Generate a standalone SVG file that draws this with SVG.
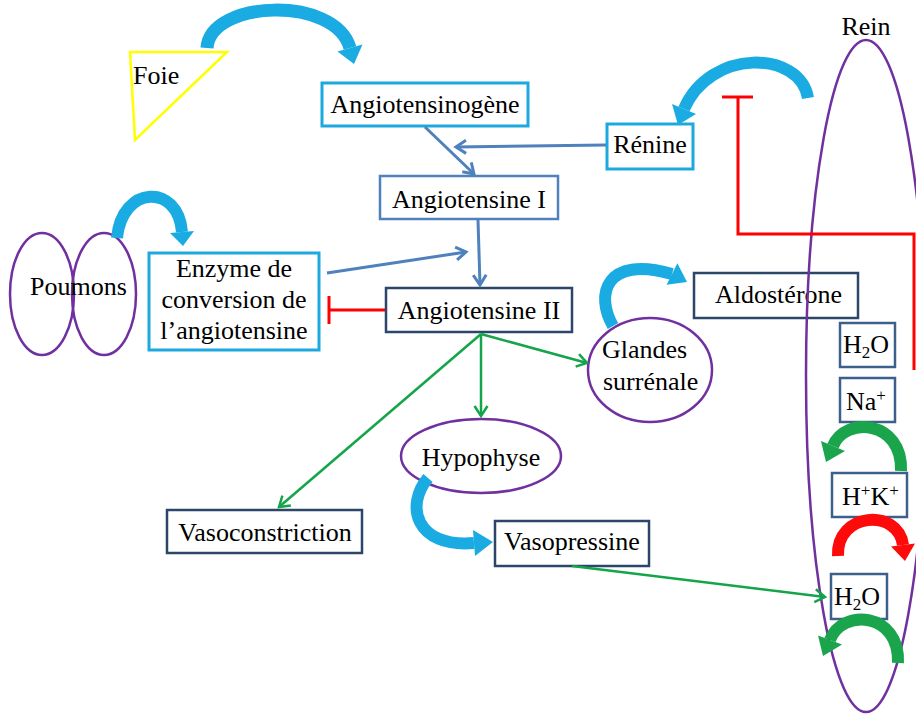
<svg xmlns="http://www.w3.org/2000/svg" width="916" height="714" viewBox="0 0 916 714">
<defs>
<style>
text{font-family:"Liberation Serif","Times New Roman",serif;font-size:26px;fill:#000}
.cy{fill:#fff;stroke:#1DA9E0;stroke-width:3}
.sb{fill:#fff;stroke:#4F81BD;stroke-width:2.5}
.nv{fill:#fff;stroke:#2B4669;stroke-width:2.5}
.sm{fill:#fff;stroke:#3D5F8C;stroke-width:2.5}
.pu{fill:none;stroke:#7030A0;stroke-width:2.5}
.bl{fill:none;stroke:#4F81BD;stroke-width:3}
.gr{fill:none;stroke:#14A44A;stroke-width:2.5}
.rd{fill:none;stroke:#FF0000;stroke-width:3}
.tb{fill:none;stroke:#1AABE3;stroke-width:13}
.tg{fill:none;stroke:#1AA44C;stroke-width:12}
.tr{fill:none;stroke:#FF0A0A;stroke-width:12}
.hb{fill:#1AABE3}
.hg{fill:#1AA44C}
.hr{fill:#FF0A0A}
</style>
<marker id="ab" markerWidth="16" markerHeight="16" refX="12" refY="8" orient="auto" markerUnits="userSpaceOnUse"><path d="M2,1.5 L12,8 L2,14.5" fill="none" stroke="#4F81BD" stroke-width="3"/></marker>
<marker id="ag" markerWidth="16" markerHeight="16" refX="12" refY="8" orient="auto" markerUnits="userSpaceOnUse"><path d="M2,1.5 L12,8 L2,14.5" fill="none" stroke="#14A44A" stroke-width="2.5"/></marker>
</defs>
<rect width="916" height="714" fill="#fff"/>

<g id="foie"><polygon points="130,52 227,52 135,140" fill="none" stroke="#FFFF00" stroke-width="2.5"/><text x="133" y="84">Foie</text></g>
<g id="angiotensinogene"><rect class="cy" x="322" y="83" width="206" height="43"/><text x="425" y="113" text-anchor="middle">Angiotensinogène</text></g>
<g id="renine"><rect class="cy" x="607" y="124" width="86" height="45"/><text x="650" y="153" text-anchor="middle">Rénine</text></g>
<g id="angiotensine1"><rect class="sb" x="380" y="176" width="178" height="43"/><text x="469" y="208" text-anchor="middle">Angiotensine I</text></g>
<g id="angiotensine2"><rect class="nv" x="386" y="288" width="186" height="44"/><text x="479" y="319" text-anchor="middle">Angiotensine II</text></g>
<g id="poumons"><ellipse class="pu" cx="42" cy="294" rx="32" ry="61"/><ellipse class="pu" cx="104" cy="294" rx="32" ry="61"/><text x="30" y="295">Poumons</text></g>
<g id="enzyme"><rect class="cy" x="149" y="253" width="170" height="97"/><text x="234" y="277" text-anchor="middle">Enzyme de</text><text x="234" y="308" text-anchor="middle">conversion de</text><text x="234" y="339" text-anchor="middle">l’angiotensine</text></g>
<g id="glandes"><ellipse class="pu" cx="650" cy="370" rx="62" ry="52"/><text x="602" y="358">Glandes</text><text x="603" y="390">surrénale</text></g>
<g id="aldosterone"><rect class="nv" x="694" y="273" width="164" height="45"/><text x="715" y="303">Aldostérone</text></g>
<g id="hypophyse"><ellipse class="pu" cx="481" cy="456" rx="80" ry="37"/><text x="481" y="466" text-anchor="middle">Hypophyse</text></g>
<g id="vasopressine"><rect class="nv" x="495" y="521" width="154" height="45"/><text x="572" y="550" text-anchor="middle">Vasopressine</text></g>
<g id="vasoconstriction"><rect class="nv" x="167" y="510" width="195" height="43"/><text x="265" y="541" text-anchor="middle">Vasoconstriction</text></g>
<g id="h2o-1"><rect class="sm" x="840" y="323" width="55" height="44"/><text x="843" y="353">H<tspan font-size="17" dy="5">2</tspan><tspan dy="-5">O</tspan></text></g>
<g id="na"><rect class="sm" x="840" y="378" width="55" height="44"/><text x="846" y="410">Na<tspan font-size="17" dy="-9">+</tspan></text></g>
<g id="hk"><rect class="sm" x="832" y="473" width="75" height="44"/><text x="842" y="505">H<tspan font-size="17" dy="-9">+</tspan><tspan dy="9">K</tspan><tspan font-size="17" dy="-9">+</tspan></text></g>
<g id="h2o-2"><rect class="sm" x="831" y="574" width="56" height="45"/><text x="834" y="605">H<tspan font-size="17" dy="5">2</tspan><tspan dy="-5">O</tspan></text></g>
<g id="rein"><ellipse class="pu" cx="866" cy="376" rx="60" ry="336"/><text x="866" y="35" text-anchor="middle">Rein</text></g>

<g id="connectors">
<line class="bl" x1="425" y1="127" x2="474" y2="174" marker-end="url(#ab)"/>
<line class="bl" x1="606" y1="145" x2="456" y2="147" marker-end="url(#ab)"/>
<line class="bl" x1="478" y1="220" x2="480" y2="285" marker-end="url(#ab)"/>
<line class="bl" x1="327" y1="273" x2="466" y2="252" marker-end="url(#ab)"/>
<line class="rd" x1="385" y1="310" x2="329" y2="310"/>
<line class="rd" x1="329" y1="296" x2="329" y2="324"/>
<polyline class="rd" points="738,97 738,234 914,234 914,370"/>
<line class="rd" x1="722" y1="97" x2="753" y2="97"/>
<line class="gr" x1="481" y1="334" x2="279" y2="507" marker-end="url(#ag)"/>
<line class="gr" x1="481" y1="334" x2="481" y2="416" marker-end="url(#ag)"/>
<line class="gr" x1="481" y1="334" x2="587" y2="363" marker-end="url(#ag)"/>
<line class="gr" x1="572" y1="566" x2="825" y2="597" marker-end="url(#ag)"/>
<path class="tb" d="M207,48 C210,0 335,-5 350,48"/><polygon class="hb" points="362.5,44.5 337.5,51.5 354,64"/>
<path class="tb" style="stroke-width:12" d="M808,98 C800,50 710,48 684,109"/><polygon class="hb" points="696,114 672,104 678,125"/>
<path class="tb" style="stroke-width:12" d="M117,238 C122,185 178,183 182,232"/><polygon class="hb" points="194,231 170,233 183,246"/>
<path class="tb" style="stroke-width:12" d="M613,326 C595,295 605,255 672,274"/><polygon class="hb" points="666.6,284.7 677.4,263.3 687,282"/>
<path class="tb" style="stroke-width:12" d="M428,478 C405,505 415,548 474,543"/><polygon class="hb" points="475,556 473,530 493,542"/>
<path class="tg" d="M901,471 C903,420 845,416 833,446"/><polygon class="hg" points="845,451 821,441 826,462"/>
<path class="tr" d="M838,556 C836,512 898,508 903,545"/><polygon class="hr" points="915,543.4 891,546.6 905,561"/>
<path class="tg" d="M898,663 C900,612 842,608 830,640"/><polygon class="hg" points="842,644.6 818,635.4 823,656"/>
</g>
</svg>
